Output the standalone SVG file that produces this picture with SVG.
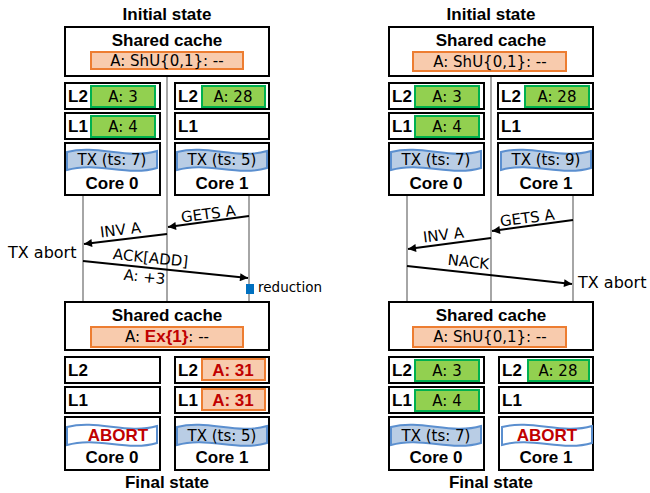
<svg xmlns="http://www.w3.org/2000/svg" width="650" height="493" viewBox="0 0 650 493">
<style>
.box{fill:#fff;stroke:#000;stroke-width:2}
.sh{fill:#f8cbad;stroke:#ed7d31;stroke-width:2}
.gr{fill:#92d050;stroke:#00b050;stroke-width:2}
.tx{fill:#b9cde5;stroke:#5b8fcf;stroke-width:2}
.ab{fill:#fff;stroke:#5b8fcf;stroke-width:2}
.vl{stroke:#a6a6a6;stroke-width:2;fill:none}
.ar{stroke:#000;stroke-width:2;fill:none;marker-end:url(#ah)}
.b{font-family:"Liberation Sans",Arial,sans-serif;font-weight:bold;font-size:17px;fill:#000}
.r{font-family:"DejaVu Sans",sans-serif;font-size:15px;fill:#000}
.red{fill:#c00000}
.m{text-anchor:middle}
</style>
<defs>
<marker id="ah" viewBox="0 0 10 10" refX="10" refY="5" markerWidth="10" markerHeight="8" markerUnits="userSpaceOnUse" orient="auto">
<path d="M0,0 L10,5 L0,10 Z" fill="#000"/>
</marker>
<path id="wave" d="M0,3 C30,-5 60,11 90,2 L90,19 C60,28 30,12 0,21 Z"/>
</defs>

<g id="connectors">
<line class="vl" x1="167" y1="76" x2="167" y2="302"/>
<line class="vl" x1="83" y1="195" x2="83" y2="302"/>
<line class="vl" x1="249" y1="195" x2="249" y2="302"/>
<line class="vl" x1="491" y1="76" x2="491" y2="302"/>
<line class="vl" x1="407" y1="195" x2="407" y2="302"/>
<line class="vl" x1="573" y1="195" x2="573" y2="302"/>
<line class="ar" x1="249" y1="216" x2="168" y2="227"/>
<line class="ar" x1="167" y1="234" x2="84" y2="244"/>
<line class="ar" x1="83" y1="261" x2="248" y2="278"/>
<line class="ar" x1="573" y1="220" x2="492" y2="231"/>
<line class="ar" x1="491" y1="238" x2="408" y2="249"/>
<line class="ar" x1="407" y1="266" x2="572" y2="284"/>
<text class="r m" transform="translate(209,219) rotate(-7.5)">GETS A</text>
<text class="r m" transform="translate(121,235) rotate(-7)">INV A</text>
<text class="r m" transform="translate(150,263) rotate(6)">ACK[ADD]</text>
<text class="r m" transform="translate(144,282) rotate(6)">A: +3</text>
<text class="r m" transform="translate(528,223) rotate(-7.5)">GETS A</text>
<text class="r m" transform="translate(444,240) rotate(-7)">INV A</text>
<text class="r m" transform="translate(468,267) rotate(6)">NACK</text>
</g>

<g id="tx-abort-left"><text class="r" x="8" y="258" style="font-size:16px">TX abort</text></g>
<g id="reduction"><rect x="246" y="284" width="8" height="10" fill="#0070c0"/><text class="r" x="258" y="292" style="font-size:13.5px">reduction</text></g>
<g id="tx-abort-right"><text class="r" x="578" y="288" style="font-size:16px">TX abort</text></g>

<!-- Left panel initial -->
<g id="L-init-title"><text class="b m" x="167" y="20">Initial state</text></g>
<g id="L-init-shared">
<rect class="box" x="65" y="27" width="204" height="49"/>
<text class="b m" x="167" y="46">Shared cache</text>
<rect class="sh" x="91" y="52" width="152" height="17"/>
<text class="r m" x="167" y="66">A: ShU{0,1}: --</text>
</g>
<g id="L-init-c0-L2"><rect class="box" x="65" y="83" width="95" height="26"/><text class="b" x="68" y="102">L2</text><rect class="gr" x="91" y="86" width="64" height="21"/><text class="r m" x="123" y="102">A: 3</text></g>
<g id="L-init-c0-L1"><rect class="box" x="65" y="113" width="95" height="26"/><text class="b" x="68" y="132">L1</text><rect class="gr" x="91" y="116" width="64" height="21"/><text class="r m" x="123" y="132">A: 4</text></g>
<g id="L-init-core0"><rect class="box" x="65" y="143" width="95" height="52"/><use href="#wave" class="tx" transform="translate(67,149)"/><text class="r m" x="112" y="165">TX (ts: 7)</text><text class="b m" x="112" y="189">Core 0</text></g>
<g id="L-init-c1-L2"><rect class="box" x="175" y="83" width="94" height="26"/><text class="b" x="178" y="102">L2</text><rect class="gr" x="202" y="86" width="63" height="21"/><text class="r m" x="233" y="102">A: 28</text></g>
<g id="L-init-c1-L1"><rect class="box" x="175" y="113" width="94" height="26"/><text class="b" x="178" y="132">L1</text></g>
<g id="L-init-core1"><rect class="box" x="175" y="143" width="94" height="52"/><use href="#wave" class="tx" transform="translate(177,149)"/><text class="r m" x="222" y="165">TX (ts: 5)</text><text class="b m" x="222" y="189">Core 1</text></g>

<!-- Left panel final -->
<g id="L-fin-shared">
<rect class="box" x="65" y="302" width="204" height="48"/>
<text class="b m" x="167" y="321">Shared cache</text>
<rect class="sh" x="91" y="327" width="152" height="20"/>
<text class="r m" x="167" y="342">A: <tspan class="b red">Ex{1}</tspan>: --</text>
</g>
<g id="L-fin-c0-L2"><rect class="box" x="65" y="357" width="95" height="26"/><text class="b" x="68" y="376">L2</text></g>
<g id="L-fin-c0-L1"><rect class="box" x="65" y="387" width="95" height="26"/><text class="b" x="68" y="406">L1</text></g>
<g id="L-fin-core0"><rect class="box" x="65" y="417" width="95" height="53"/><use href="#wave" class="ab" transform="translate(67,424)"/><text class="b m red" x="118" y="441">ABORT</text><text class="b m" x="112" y="463">Core 0</text></g>
<g id="L-fin-c1-L2"><rect class="box" x="175" y="357" width="94" height="26"/><text class="b" x="178" y="376">L2</text><rect class="sh" x="202" y="359" width="63" height="21"/><text class="b m red" x="233" y="376">A: 31</text></g>
<g id="L-fin-c1-L1"><rect class="box" x="175" y="387" width="94" height="26"/><text class="b" x="178" y="406">L1</text><rect class="sh" x="202" y="389" width="63" height="21"/><text class="b m red" x="233" y="406">A: 31</text></g>
<g id="L-fin-core1"><rect class="box" x="175" y="417" width="94" height="53"/><use href="#wave" class="tx" transform="translate(177,424)"/><text class="r m" x="222" y="441">TX (ts: 5)</text><text class="b m" x="222" y="463">Core 1</text></g>
<g id="L-fin-title"><text class="b m" x="167" y="488">Final state</text></g>

<!-- Right panel -->
<g transform="translate(324,0)">
<g id="R-init-title"><text class="b m" x="167" y="20">Initial state</text></g>
<g id="R-init-shared">
<rect class="box" x="65" y="27" width="204" height="49"/>
<text class="b m" x="167" y="46">Shared cache</text>
<rect class="sh" x="89" y="52" width="153" height="19"/>
<text class="r m" x="166" y="67">A: ShU{0,1}: --</text>
</g>
<g id="R-init-c0-L2"><rect class="box" x="65" y="83" width="95" height="26"/><text class="b" x="68" y="102">L2</text><rect class="gr" x="91" y="86" width="64" height="21"/><text class="r m" x="123" y="102">A: 3</text></g>
<g id="R-init-c0-L1"><rect class="box" x="65" y="113" width="95" height="26"/><text class="b" x="68" y="132">L1</text><rect class="gr" x="91" y="116" width="64" height="21"/><text class="r m" x="123" y="132">A: 4</text></g>
<g id="R-init-core0"><rect class="box" x="65" y="143" width="95" height="52"/><use href="#wave" class="tx" transform="translate(67,149)"/><text class="r m" x="112" y="165">TX (ts: 7)</text><text class="b m" x="112" y="189">Core 0</text></g>
<g id="R-init-c1-L2"><rect class="box" x="174" y="83" width="95" height="26"/><text class="b" x="177" y="102">L2</text><rect class="gr" x="201" y="86" width="64" height="21"/><text class="r m" x="233" y="102">A: 28</text></g>
<g id="R-init-c1-L1"><rect class="box" x="174" y="113" width="95" height="26"/><text class="b" x="177" y="132">L1</text></g>
<g id="R-init-core1"><rect class="box" x="174" y="143" width="95" height="52"/><use href="#wave" class="tx" transform="translate(177,149)"/><text class="r m" x="222" y="165">TX (ts: 9)</text><text class="b m" x="222" y="189">Core 1</text></g>

<g id="R-fin-shared">
<rect class="box" x="65" y="302" width="204" height="48"/>
<text class="b m" x="167" y="321">Shared cache</text>
<rect class="sh" x="89" y="327" width="153" height="20"/>
<text class="r m" x="166" y="342">A: ShU{0,1}: --</text>
</g>
<g id="R-fin-c0-L2"><rect class="box" x="65" y="357" width="95" height="26"/><text class="b" x="68" y="376">L2</text><rect class="gr" x="91" y="360" width="64" height="21"/><text class="r m" x="123" y="376">A: 3</text></g>
<g id="R-fin-c0-L1"><rect class="box" x="65" y="387" width="95" height="26"/><text class="b" x="68" y="406">L1</text><rect class="gr" x="91" y="390" width="64" height="21"/><text class="r m" x="123" y="406">A: 4</text></g>
<g id="R-fin-core0"><rect class="box" x="65" y="417" width="95" height="53"/><use href="#wave" class="tx" transform="translate(67,424)"/><text class="r m" x="112" y="441">TX (ts: 7)</text><text class="b m" x="112" y="463">Core 0</text></g>
<g id="R-fin-c1-L2"><rect class="box" x="175" y="357" width="94" height="26"/><text class="b" x="178" y="376">L2</text><rect class="gr" x="204" y="360" width="61" height="21"/><text class="r m" x="234" y="376">A: 28</text></g>
<g id="R-fin-c1-L1"><rect class="box" x="175" y="387" width="94" height="26"/><text class="b" x="178" y="406">L1</text></g>
<g id="R-fin-core1"><rect class="box" x="175" y="417" width="94" height="53"/><use href="#wave" class="ab" transform="translate(178,424)"/><text class="b m red" x="223" y="441">ABORT</text><text class="b m" x="222" y="463">Core 1</text></g>
<g id="R-fin-title"><text class="b m" x="167" y="488">Final state</text></g>
</g>
</svg>
